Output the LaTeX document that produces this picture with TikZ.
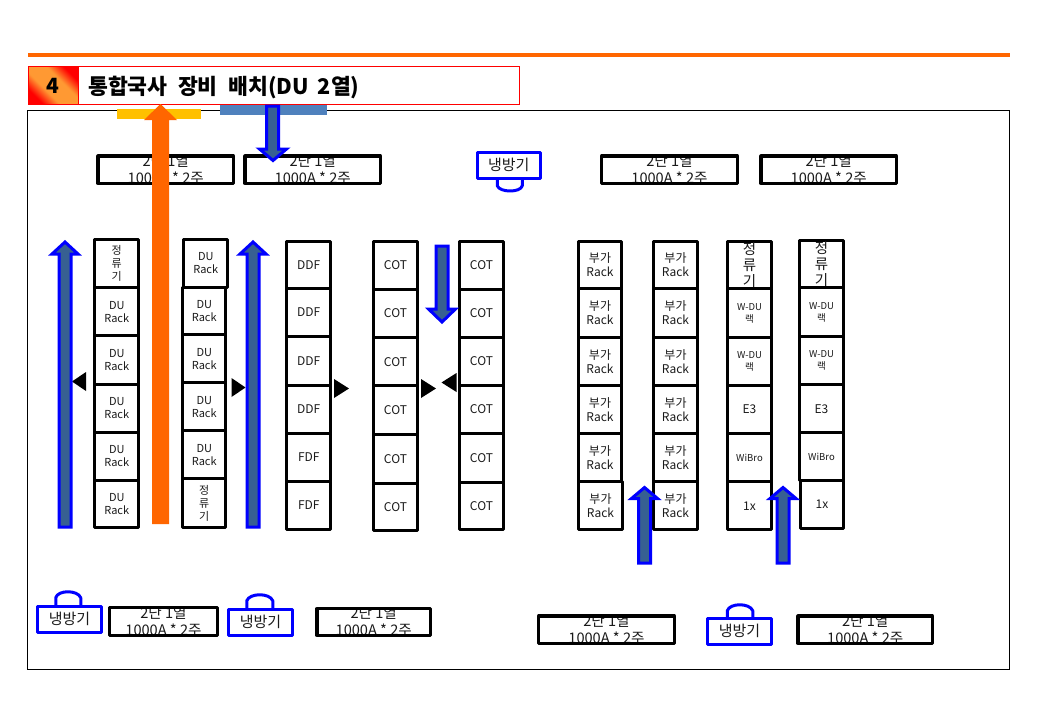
\documentclass[tikz,border=0pt]{standalone}
\usepackage{fontspec}
\setmainfont{Noto Sans CJK KR}
\definecolor{orangeline}{HTML}{FF6600}
\definecolor{barblue}{HTML}{4F81BD}
\definecolor{baryellow}{HTML}{FFC000}
\definecolor{arrowfill}{HTML}{376092}
\definecolor{numorange}{HTML}{FF9933}
\definecolor{txt}{HTML}{1A1A1A}
\pgfdeclarehorizontalshading{numgrad}{100bp}{color(0bp)=(red); color(26bp)=(red); color(40bp)=(numorange); color(60bp)=(numorange); color(74bp)=(red); color(100bp)=(red)}
\newcommand\fsz[2]{\fontsize{#1}{#2}\selectfont}
\tikzset{
  rackcell/.style={draw=black,line width=3.2pt,line join=round,fill=white,inner sep=0pt,align=center,text=txt},
  sduA/.style={font=\fsz{11}{13}},
  scot/.style={font=\fsz{12}{14}},
  sadd/.style={font=\fsz{12}{14}},
  srect/.style={font=\fsz{14.5}{16}},
  swdu/.style={font=\fsz{9.5}{12}},
  psuframe/.style={draw=black,line width=3.2pt,line join=round,inner sep=0pt},
  psutext/.style={font=\fsz{14.6}{17},align=center,inner sep=0pt,text=txt},
  coolbox/.style={draw=blue,line width=3.2pt,fill=white,inner sep=0pt,font=\fsz{15}{16},text=txt,line join=round},
  coolhandle/.style={draw=blue,line width=3pt,line join=round},
  blockarrow/.style={draw=blue,line width=3pt,fill=arrowfill,line join=miter},
  tri/.style={fill=black,draw=none},
}
% name, x1, x2, y1, y2 (centre lines), style, text
\newcommand\cellnode[7]{%
  \pgfmathsetmacro\cx{(#2+#3)/2}\pgfmathsetmacro\cy{(#4+#5)/2}%
  \pgfmathsetmacro\cw{#3-#2}\pgfmathsetmacro\ch{#5-#4}%
  \node[rackcell,#6,minimum width=\cw pt,minimum height=\ch pt] (#1) at (\cx,\cy) {#7};}
% name, x1, x2, y1, y2 (centre lines)
\newcommand\psunode[5]{%
  \pgfmathsetmacro\cx{(#2+#3)/2}\pgfmathsetmacro\cy{(#4+#5)/2}%
  \pgfmathsetmacro\cw{#3-#2}\pgfmathsetmacro\ch{#5-#4}%
  \node[fill=white,inner sep=0pt,minimum width=\cw pt,minimum height=\ch pt] (#1) at (\cx,\cy) {};
  \begin{scope}
    \clip (#1.south west) rectangle (#1.north east);
    \node[psutext] (#1t) at (#1) {2단 1열\\1000A * 2주};
  \end{scope}
  \draw[psuframe] (#1.south west) rectangle (#1.north east);}
% name, x1, x2, y1, y2
\newcommand\coolnode[5]{%
  \pgfmathsetmacro\cx{(#2+#3)/2}\pgfmathsetmacro\cy{(#4+#5)/2}%
  \pgfmathsetmacro\cw{#3-#2}\pgfmathsetmacro\ch{#5-#4}%
  \node[coolbox,minimum width=\cw pt,minimum height=\ch pt] (#1) at (\cx,\cy) {냉방기};}
% up arrow: centre x, shaft half, head half, tip y, base y, bottom y
\newcommand\uparr[6]{\draw[blockarrow] (#1-#2,#6) -- (#1-#2,#5) -- (#1-#3,#5) -- (#1,#4) -- (#1+#3,#5) -- (#1+#2,#5) -- (#1+#2,#6) -- cycle;}
\begin{document}
\begin{tikzpicture}[x=1pt,y=-1pt]
\useasboundingbox (0,0) rectangle (1039,720);
\fill[white] (0,0) rectangle (1039,720);
% top rule
\fill[orangeline] (28,53) rectangle (1010,57);
% frame
\draw[black,line width=1pt] (27.5,110.5) rectangle (1009.5,669.5);
% bars
\fill[baryellow] (117,109) rectangle (201,119);
\fill[barblue] (220,104) rectangle (327,115);
% title
\node[draw=red,line width=1pt,fill=white,minimum width=491pt,minimum height=38pt,inner sep=0pt] (titlebox) at (274,85.25) {};
\node[anchor=west,inner sep=0pt,font=\fsz{21.6}{24}\bfseries,text=black] (titletext) at (88,87.5) {통합국사\hspace{5.5pt} 장비\hspace{5.5pt} 배치(DU\hspace{4pt} 2열)};
\shade[shading=numgrad,shading angle=45] (29,67) rectangle (78,104);
\draw[red,line width=1pt] (28.5,66.5) rectangle (78,104);
\node[inner sep=0pt,font=\fsz{21}{22}\bfseries,text=black] (titlenum) at (53,86) {4};
\begin{scope}[xshift=-0.25pt,yshift=0.25pt]
% power boxes
\psunode{p1}{98.5}{233.5}{156.5}{183.5}
\psunode{p2}{245.5}{380.5}{156.5}{183.5}
\psunode{p3}{602}{737.5}{156.5}{183.5}
\psunode{p4}{761.5}{896.5}{156.5}{183.5}
\psunode{p5}{110}{217.5}{608}{635.5}
\psunode{p6}{317.5}{430.5}{609}{635.5}
\psunode{p7}{539}{674.5}{616.5}{643.5}
\psunode{p8}{798.5}{932.5}{616.5}{643.5}
% coolers
\draw[coolhandle] (497.5,179) -- (497.5,186) .. controls (500,193) and (521,193) .. (522.5,186) -- (522.5,179);
\coolnode{k1}{477.5}{540.5}{152.5}{178.5}
\draw[coolhandle] (56,605) -- (56,598) .. controls (58,590) and (78,590) .. (81,598) -- (81,605);
\coolnode{k2}{38}{101.5}{606.5}{632.5}
\draw[coolhandle] (247,608) -- (247,601) .. controls (250,593) and (270,593) .. (273,601) -- (273,608);
\coolnode{k3}{229}{292.5}{609.5}{635.5}
\draw[coolhandle] (727.5,617) -- (727.5,611) .. controls (730,603) and (750,603) .. (753,611) -- (753,617);
\coolnode{k4}{708}{771.5}{618.5}{644.5}
% column 1
\cellnode{a1}{95}{139}{239.5}{288}{sduA}{정\\류\\기}
\cellnode{a2}{95}{139}{288}{336}{sduA}{DU\\Rack}
\cellnode{a3}{95}{139}{336}{384.5}{sduA}{DU\\Rack}
\cellnode{a4}{95}{139}{384.5}{432.5}{sduA}{DU\\Rack}
\cellnode{a5}{95}{139}{432.5}{480.5}{sduA}{DU\\Rack}
\cellnode{a6}{95}{139}{480.5}{527.5}{sduA}{DU\\Rack}
% column 2
\cellnode{b1}{184}{228}{239.5}{287.5}{sduA}{DU\\Rack}
\cellnode{b2}{183}{226}{287.5}{335}{sduA}{DU\\Rack}
\cellnode{b3}{183}{226}{335}{383}{sduA}{DU\\Rack}
\cellnode{b4}{183}{226}{383}{431}{sduA}{DU\\Rack}
\cellnode{b5}{183}{226}{431}{479}{sduA}{DU\\Rack}
\cellnode{b6}{183}{226}{479}{527.5}{sduA}{정\\류\\기}
% column 3
\cellnode{c1}{287}{331}{241.5}{288.5}{scot}{DDF}
\cellnode{c2}{287}{331}{288.5}{337}{scot}{DDF}
\cellnode{c3}{287}{331}{337}{385.5}{scot}{DDF}
\cellnode{c4}{287}{331}{385.5}{433.5}{scot}{DDF}
\cellnode{c5}{287}{331}{433.5}{481.5}{scot}{FDF}
\cellnode{c6}{287}{331}{481.5}{530}{scot}{FDF}
% column 4
\cellnode{d1}{373.5}{418}{241.5}{289.5}{scot}{COT}
\cellnode{d2}{373.5}{418}{289.5}{338}{scot}{COT}
\cellnode{d3}{373.5}{418}{338}{386}{scot}{COT}
\cellnode{d4}{373.5}{418}{386}{435}{scot}{COT}
\cellnode{d5}{373.5}{418}{435}{483.5}{scot}{COT}
\cellnode{d6}{373.5}{418}{483.5}{531}{scot}{COT}
% column 5
\cellnode{e1}{459.5}{504}{241.5}{289.5}{scot}{COT}
\cellnode{e2}{459.5}{504}{289.5}{337.5}{scot}{COT}
\cellnode{e3}{459.5}{504}{337.5}{385.5}{scot}{COT}
\cellnode{e4}{459.5}{504}{385.5}{434}{scot}{COT}
\cellnode{e5}{459.5}{504}{434}{482.5}{scot}{COT}
\cellnode{e6}{459.5}{504}{482.5}{530}{scot}{COT}
% column 6
\cellnode{f1}{578.5}{622}{241.5}{289}{sadd}{부가\\Rack}
\cellnode{f2}{578.5}{622}{289}{337.5}{sadd}{부가\\Rack}
\cellnode{f3}{578.5}{622}{337.5}{385.5}{sadd}{부가\\Rack}
\cellnode{f4}{578.5}{622}{385.5}{433.5}{sadd}{부가\\Rack}
\cellnode{f5}{578.5}{622}{433.5}{481.5}{sadd}{부가\\Rack}
\cellnode{f6}{578.5}{623}{481.5}{530}{sadd}{부가\\Rack}
% column 7
\cellnode{g1}{653.5}{698}{241.5}{289}{sadd}{부가\\Rack}
\cellnode{g2}{653.5}{698}{289}{337.5}{sadd}{부가\\Rack}
\cellnode{g3}{653.5}{698}{337.5}{385.5}{sadd}{부가\\Rack}
\cellnode{g4}{653.5}{698}{385.5}{433.5}{sadd}{부가\\Rack}
\cellnode{g5}{653.5}{698}{433.5}{481.5}{sadd}{부가\\Rack}
\cellnode{g6}{653.5}{698}{481.5}{530}{sadd}{부가\\Rack}
% column 8
\cellnode{h1}{727.5}{772}{241.5}{289}{srect}{정\\류\\기}
\cellnode{h2}{727.5}{772}{289}{337.5}{swdu}{W-DU\\랙}
\cellnode{h3}{727.5}{772}{337.5}{385.5}{swdu}{W-DU\\랙}
\cellnode{h4}{727.5}{772}{385.5}{433.5}{scot}{E3}
\cellnode{h5}{727.5}{772}{433.5}{482}{swdu}{WiBro}
\cellnode{h6}{727.5}{772}{482}{530}{scot}{1x}
% column 9
\cellnode{i1}{799.5}{844}{240.5}{288}{srect}{정\\류\\기}
\cellnode{i2}{799.5}{844}{288}{336.5}{swdu}{W-DU\\랙}
\cellnode{i3}{799.5}{844}{336.5}{385}{swdu}{W-DU\\랙}
\cellnode{i4}{799.5}{844}{385}{433}{scot}{E3}
\cellnode{i5}{799.5}{844}{433}{481}{swdu}{WiBro}
\cellnode{i6}{800.5}{844}{481}{528.5}{scot}{1x}
\end{scope}
% black triangles
\fill[tri] (72,381.5) -- (86,372) -- (86,391) -- cycle;
\fill[tri] (245.5,387.5) -- (231.5,378) -- (231.5,397) -- cycle;
\fill[tri] (349,388.5) -- (334,379) -- (334,398) -- cycle;
\fill[tri] (436,388.5) -- (421,379) -- (421,398) -- cycle;
\fill[tri] (441.5,382.5) -- (456.5,373) -- (456.5,392) -- cycle;
% blue arrows
\uparr{65}{6}{13}{242}{254}{527}
\uparr{253}{6}{13}{242}{254}{527}
\uparr{644.5}{6}{13}{487.5}{498.5}{563}
\uparr{783}{6}{13}{487.5}{498.5}{563}
\draw[blockarrow] (266.5,106) -- (266.5,149) -- (259.5,149) -- (273,160.5) -- (286.5,149) -- (278.5,149) -- (278.5,106) -- cycle;
\draw[blockarrow] (436,246) -- (436,309) -- (428.5,309) -- (442,322) -- (455.5,309) -- (448,309) -- (448,246) -- cycle;
% orange arrow
\fill[orangeline] (152,524) -- (152,120) -- (144,120) -- (160.5,104) -- (177,120) -- (169,120) -- (169,524) -- cycle;
\end{tikzpicture}
\end{document}
